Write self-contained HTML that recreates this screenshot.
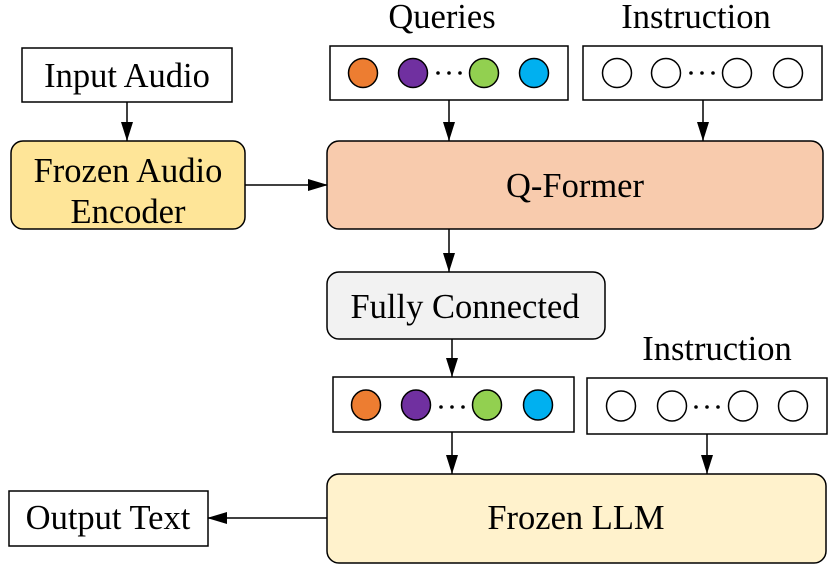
<!DOCTYPE html>
<html><head><meta charset="utf-8"><style>
html,body{margin:0;padding:0;background:#fff;width:831px;height:567px;overflow:hidden}
svg text{font-family:"Liberation Serif",serif;fill:#000}
</style></head><body>
<svg width="831" height="567" viewBox="0 0 831 567" xmlns="http://www.w3.org/2000/svg">
<defs><marker id="a" markerWidth="20" markerHeight="12" refX="19" refY="6" orient="auto" markerUnits="userSpaceOnUse"><path d="M0,0 L20,6 L0,12 z" fill="#000"/></marker>
<marker id="b" markerWidth="12" markerHeight="20" refX="6" refY="19" orient="0" markerUnits="userSpaceOnUse"><path d="M0,0 L12,0 L6,19 z" fill="#000"/></marker></defs>
<g stroke="#000" stroke-width="1.5">
<rect x="22" y="48" width="210" height="54" fill="#fff"/>
<rect x="11" y="141" width="234" height="88" rx="12" fill="#fee598"/>
<rect x="327" y="141" width="496" height="88" rx="12" fill="#f8cbad"/>
<rect x="330" y="46" width="238" height="54" fill="#fff"/>
<rect x="583" y="46" width="239" height="54" fill="#fff"/>
<rect x="327" y="272" width="278" height="67" rx="12" fill="#f2f2f2"/>
<rect x="333" y="377" width="241" height="55" fill="#fff"/>
<rect x="587" y="378" width="240" height="56" fill="#fff"/>
<rect x="327" y="474" width="499" height="89" rx="12" fill="#fff2cc"/>
<rect x="9" y="491" width="199" height="55" fill="#fff"/>
<circle cx="363" cy="73" r="14.5" fill="#ed7d31"/>
<circle cx="413" cy="73" r="14.5" fill="#7030a0"/>
<circle cx="484" cy="73" r="14.5" fill="#92d050"/>
<circle cx="534" cy="73" r="14.5" fill="#00b0f0"/>
<circle cx="617" cy="73" r="14.5" fill="#fff"/>
<circle cx="666" cy="73" r="14.5" fill="#fff"/>
<circle cx="737" cy="73" r="14.5" fill="#fff"/>
<circle cx="788" cy="73" r="14.5" fill="#fff"/>
<ellipse cx="366" cy="405" rx="14.5" ry="15" fill="#ed7d31"/>
<ellipse cx="416" cy="405" rx="14.5" ry="15" fill="#7030a0"/>
<ellipse cx="487" cy="405" rx="14.5" ry="15" fill="#92d050"/>
<ellipse cx="538" cy="405" rx="14.5" ry="15" fill="#00b0f0"/>
<ellipse cx="621" cy="406" rx="14.5" ry="15" fill="#fff"/>
<ellipse cx="672" cy="406" rx="14.5" ry="15" fill="#fff"/>
<ellipse cx="743" cy="406" rx="14.5" ry="15" fill="#fff"/>
<ellipse cx="793" cy="406" rx="14.5" ry="15" fill="#fff"/>
<line x1="127" y1="102" x2="127" y2="141" marker-end="url(#b)"/>
<line x1="449" y1="100" x2="449" y2="141" marker-end="url(#b)"/>
<line x1="703" y1="100" x2="703" y2="141" marker-end="url(#b)"/>
<line x1="245" y1="185" x2="327" y2="185" marker-end="url(#a)"/>
<line x1="449" y1="229" x2="449" y2="272" marker-end="url(#b)"/>
<line x1="452" y1="339" x2="452" y2="377" marker-end="url(#b)"/>
<line x1="452" y1="432" x2="452" y2="474" marker-end="url(#b)"/>
<line x1="707" y1="434" x2="707" y2="474" marker-end="url(#b)"/>
<line x1="327" y1="518" x2="208" y2="518" marker-end="url(#a)"/>
</g>
<g fill="#000">
<circle cx="438" cy="73" r="1.8"/><circle cx="449" cy="73" r="1.8"/><circle cx="460" cy="73" r="1.8"/>
<circle cx="691" cy="73" r="1.8"/><circle cx="702" cy="73" r="1.8"/><circle cx="713" cy="73" r="1.8"/>
<circle cx="441" cy="407" r="1.8"/><circle cx="452" cy="407" r="1.8"/><circle cx="463" cy="407" r="1.8"/>
<circle cx="696" cy="407" r="1.8"/><circle cx="707" cy="407" r="1.8"/><circle cx="718" cy="407" r="1.8"/>
</g>
<g font-size="34.5" text-anchor="middle">
<text x="127" y="87">Input Audio</text>
<text x="128" y="182">Frozen Audio</text>
<text x="128" y="223">Encoder</text>
<text x="575" y="197">Q-Former</text>
<text x="442" y="28">Queries</text>
<text x="696" y="28">Instruction</text>
<text x="465" y="318">Fully Connected</text>
<text x="717" y="360">Instruction</text>
<text x="576" y="529">Frozen LLM</text>
<text x="108" y="529">Output Text</text>
</g>
</svg>
</body></html>
